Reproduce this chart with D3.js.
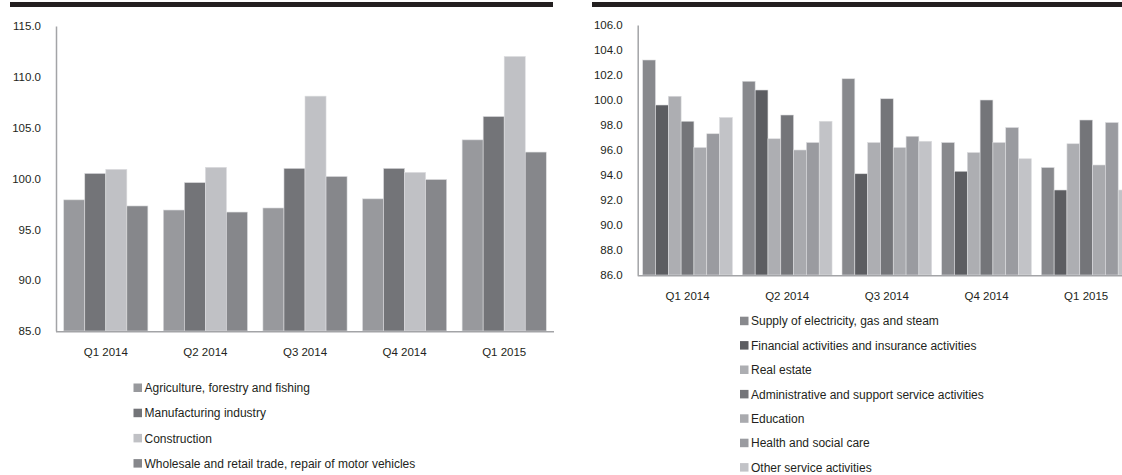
<!DOCTYPE html>
<html>
<head>
<meta charset="utf-8">
<script src="https://cdn.jsdelivr.net/npm/d3@7/dist/d3.min.js"></script>
<style>
  html, body { margin: 0; padding: 0; background: #fff; }
  svg { display: block; }
  text { font-family: "Liberation Sans", Arial, sans-serif; fill: #231f20; }
</style>
</head>
<body>
<svg id="chart" width="1122" height="475"></svg>
<script>
// Quarters shown on both panels
const quarters = ["Q1 2014", "Q2 2014", "Q3 2014", "Q4 2014", "Q1 2015"];

// Left panel: goods-producing and trade sectors
const leftSeries = [
  "Agriculture, forestry and fishing",
  "Manufacturing industry",
  "Construction",
  "Wholesale and retail trade, repair of motor vehicles"
];
const agriculture   = [97.9, 96.9, 97.1, 98.0, 103.8];
const manufacturing = [100.5, 99.6, 101.0, 101.0, 106.1];
const construction  = [100.9, 101.1, 108.1, 100.6, 112.0];
const wholesale     = [97.3, 96.7, 100.2, 99.9, 102.6];
const leftValues = [agriculture, manufacturing, construction, wholesale];
const leftTicks = [85, 90, 95, 100, 105, 110, 115];

// Right panel: service sectors
const rightSeries = [
  "Supply of electricity, gas and steam",
  "Financial activities and insurance activities",
  "Real estate",
  "Administrative and support service activities",
  "Education",
  "Health and social care",
  "Other service activities"
];
const electricity    = [103.2, 101.5, 101.7, 96.6, 94.6];
const financial      = [99.6, 100.8, 94.1, 94.3, 92.8];
const realEstate     = [100.3, 96.9, 96.6, 95.8, 96.5];
const administrative = [98.3, 98.8, 100.1, 100.0, 98.4];
const education      = [96.2, 96.0, 96.2, 96.6, 94.8];
const health         = [97.3, 96.6, 97.1, 97.8, 98.2];
const otherServices  = [98.6, 98.3, 96.7, 95.3, 92.8];
const rightValues = [electricity, financial, realEstate, administrative, education, health, otherServices];
const rightTicks = [86, 88, 90, 92, 94, 96, 98, 100, 102, 104, 106];

const leftColors  = ["#98999d", "#737478", "#c0c1c5", "#86878b"];
const rightColors = ["#88898d", "#5c5d61", "#adaeb2", "#747579", "#a9aaae", "#9a9ba0", "#c2c3c7"];

const svg = d3.select("#chart");
const axisColor = "#a3a4a7";

function panel(opts) {
  const g = svg.append("g");

  // heading rule
  g.append("rect")
    .attr("x", opts.rule[0]).attr("y", 2)
    .attr("width", opts.rule[1] - opts.rule[0]).attr("height", 5)
    .attr("fill", "#231f20");

  const y = d3.scaleLinear().domain(opts.yDomain).range(opts.yRange);
  const x0 = d3.scaleBand().domain(quarters).range(opts.xRange)
    .paddingInner(opts.padIn).paddingOuter(opts.padOut);
  const x1 = d3.scaleBand().domain(d3.range(opts.series.length))
    .range([0, x0.bandwidth()]);

  const rows = [];
  opts.values.forEach((vals, si) => {
    vals.forEach((v, qi) => rows.push({ q: quarters[qi], s: si, v }));
  });

  g.selectAll("rect.bar").data(rows).join("rect")
    .attr("class", "bar")
    .attr("x", d => x0(d.q) + x1(d.s))
    .attr("y", d => y(d.v))
    .attr("width", x1.bandwidth())
    .attr("height", d => y(opts.yDomain[0]) - y(d.v))
    .attr("fill", d => opts.colors[d.s])
    .attr("stroke", "#dcdddf")
    .attr("stroke-width", 0.6);

  // y axis
  const yAxis = d3.axisLeft(y).tickValues(opts.ticks).tickSize(0).tickPadding(15)
    .tickFormat(d3.format(".1f"));
  const ya = g.append("g").attr("transform", `translate(${opts.xRange[0]},0)`).call(yAxis);
  ya.select(".domain").attr("stroke", axisColor).attr("stroke-width", 1.5);
  ya.selectAll("text").attr("font-size", 11.5).attr("fill", "#231f20");

  // x axis
  const xAxis = d3.axisBottom(x0).tickSize(0).tickPadding(16);
  const xa = g.append("g").attr("transform", `translate(0,${opts.yRange[0] + 0.75})`).call(xAxis);
  xa.select(".domain").attr("stroke", axisColor).attr("stroke-width", 1.5)
    .attr("d", `M${opts.xRange[0]},0H${opts.xAxisEnd}`);
  xa.selectAll("text").attr("font-size", 11.5).attr("fill", "#231f20");

  // legend
  const lg = g.append("g");
  opts.series.forEach((name, i) => {
    const cy = opts.legend.y + i * opts.legend.dy;
    lg.append("rect")
      .attr("x", opts.legend.x).attr("y", cy - 4.5)
      .attr("width", 8.5).attr("height", 8.5)
      .attr("fill", opts.colors[i]);
    lg.append("text")
      .attr("x", opts.legend.x + 11).attr("y", cy)
      .attr("dy", "0.35em")
      .attr("font-size", 12)
      .text(name);
  });
}

panel({
  rule: [10, 553],
  series: leftSeries, values: leftValues, colors: leftColors, ticks: leftTicks,
  yDomain: [85, 115], yRange: [331, 26],
  xRange: [56, 554], xAxisEnd: 554, padIn: 0.155, padOut: 0.0775,
  legend: { x: 133.5, y: 388, dy: 25.2 }
});

panel({
  rule: [592, 1122],
  series: rightSeries, values: rightValues, colors: rightColors, ticks: rightTicks,
  yDomain: [86, 106], yRange: [275, 25],
  xRange: [637.7, 1136], xAxisEnd: 1136, padIn: 0.1, padOut: 0.05,
  legend: { x: 740, y: 321.2, dy: 24.4 }
});
</script>
</body>
</html>
